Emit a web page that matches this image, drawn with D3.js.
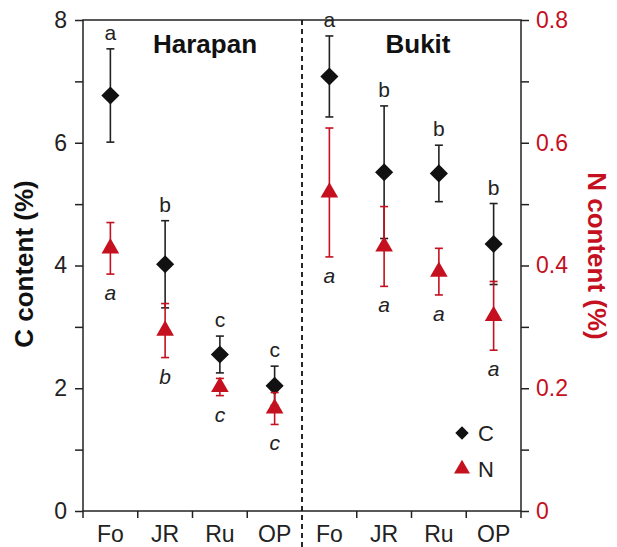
<!DOCTYPE html>
<html>
<head>
<meta charset="utf-8">
<script src="https://cdn.jsdelivr.net/npm/d3@7"></script>
<style>
  body { margin: 0; background: #fff; }
  text { font-family: Arial, 'Liberation Sans', sans-serif; }
</style>
</head>
<body>
<div id="chart"></div>
<script>
const sites = ['Harapan', 'Bukit']
const landUses = ['Fo', 'JR', 'Ru', 'OP']
const cMean = [6.77, 4.02, 2.55, 2.04, 7.08, 5.52, 5.50, 4.35]
const cErr = [0.76, 0.71, 0.30, 0.32, 0.66, 1.08, 0.46, 0.66]
const nMean = [0.428, 0.294, 0.202, 0.167, 0.519, 0.431, 0.390, 0.318]
const nErr = [0.042, 0.044, 0.014, 0.026, 0.105, 0.065, 0.038, 0.056]
const cLetters = ['a', 'b', 'c', 'c', 'a', 'b', 'b', 'b']
const nLetters = ['a', 'b', 'c', 'c', 'a', 'a', 'a', 'a']
const cTicks = [0, 1, 2, 3, 4, 5, 6, 7, 8]
const nTicks = [0, 0.1, 0.2, 0.3, 0.4, 0.5, 0.6, 0.7, 0.8]

const red = '#c4101f'
const width = 617
const height = 547
const plotLeft = 83, plotRight = 521, plotTop = 20, plotBottom = 511

// one slot per site x land use
const slots = []
sites.forEach(s => landUses.forEach(l => slots.push(s + '-' + l)))
const rows = slots.map((id, i) => ({
    id: id, lu: landUses[i % 4],
    c: cMean[i], ce: cErr[i], n: nMean[i], ne: nErr[i],
    cl: cLetters[i], nl: nLetters[i]
}))

let svg = d3.select('#chart').append('svg')
    .attr('width', width)
    .attr('height', height)

let xScale = d3.scaleBand().domain(slots).range([plotLeft, plotRight]).padding(0)
let yC = d3.scaleLinear().domain([0, 8]).range([plotBottom, plotTop])
let yN = d3.scaleLinear().domain([0, 0.8]).range([plotBottom, plotTop])

// Axes
let yAxisL = d3.axisLeft(yC)
    .tickValues(cTicks)
    .tickSize(8)
    .tickPadding(8)
    .tickFormat(d => d % 2 === 0 ? d : '')
let gL = svg.append('g').attr('transform', 'translate(' + plotLeft + ',0)').call(yAxisL)
gL.select('.domain').remove()
gL.selectAll('line').attr('stroke', '#222').attr('stroke-width', 1.5)
gL.selectAll('text').attr('font-size', 23).attr('fill', '#222')
    .style('font-family', 'Arial, Liberation Sans, sans-serif')

let yAxisR = d3.axisRight(yN)
    .tickValues(nTicks)
    .tickSize(8)
    .tickPadding(7)
    .tickFormat((d, i) => i % 2 === 0 ? (d === 0 ? '0' : d.toFixed(1)) : '')
let gR = svg.append('g').attr('transform', 'translate(' + plotRight + ',0)').call(yAxisR)
gR.select('.domain').remove()
gR.selectAll('line').attr('stroke', '#222').attr('stroke-width', 1.5)
gR.selectAll('text').attr('font-size', 23).attr('fill', red)
    .style('font-family', 'Arial, Liberation Sans, sans-serif')

// x ticks at slot boundaries (none on the divider)
const bounds = slots.map(s => xScale(s)).concat([plotRight]).filter((b, i) => i !== 4)
svg.append('g').selectAll('line')
    .data(bounds)
    .enter()
    .append('line')
    .attr('x1', d => d).attr('x2', d => d)
    .attr('y1', plotBottom).attr('y2', plotBottom + 7)
    .attr('stroke', '#222').attr('stroke-width', 1.5)

svg.append('g').selectAll('text')
    .data(rows)
    .enter()
    .append('text')
    .attr('x', d => xScale(d.id) + xScale.bandwidth() / 2)
    .attr('y', 541.5)
    .attr('text-anchor', 'middle')
    .attr('font-size', 23)
    .attr('fill', '#222')
    .text(d => d.lu)

// frame
svg.append('rect')
    .attr('x', plotLeft).attr('y', plotTop)
    .attr('width', plotRight - plotLeft).attr('height', plotBottom - plotTop)
    .attr('fill', 'none').attr('stroke', '#222').attr('stroke-width', 1.5)

// divider between sites
svg.append('line')
    .attr('x1', xScale(slots[4])).attr('x2', xScale(slots[4]))
    .attr('y1', plotTop).attr('y2', height)
    .attr('stroke', '#111').attr('stroke-width', 1.8)
    .attr('stroke-dasharray', '5,4')

// site titles
svg.append('g').selectAll('text')
    .data(sites)
    .enter()
    .append('text')
    .attr('x', (d, i) => i === 0 ? 205 : 418)
    .attr('y', 53)
    .attr('text-anchor', 'middle')
    .attr('font-size', 26)
    .attr('font-weight', 'bold')
    .attr('fill', '#111')
    .text(d => d)

// axis titles
svg.append('text')
    .attr('transform', 'translate(33,264) rotate(-90)')
    .attr('text-anchor', 'middle')
    .attr('font-size', 26)
    .attr('font-weight', 'bold')
    .attr('fill', '#111')
    .text('C content (%)')

svg.append('text')
    .attr('transform', 'translate(588,256) rotate(90)')
    .attr('text-anchor', 'middle')
    .attr('font-size', 26)
    .attr('font-weight', 'bold')
    .attr('fill', red)
    .text('N content (%)')

const cx = d => xScale(d.id) + xScale.bandwidth() / 2
const capW = 4

// error bars
function errorBars(key, errKey, scale, color) {
    let g = svg.append('g').attr('stroke', color).attr('stroke-width', 1.6)
    g.selectAll('.bar')
        .data(rows)
        .enter()
        .append('line')
        .attr('x1', cx).attr('x2', cx)
        .attr('y1', d => scale(d[key] - d[errKey]))
        .attr('y2', d => scale(d[key] + d[errKey]))
    g.selectAll('.capTop')
        .data(rows)
        .enter()
        .append('line')
        .attr('x1', d => cx(d) - capW).attr('x2', d => cx(d) + capW)
        .attr('y1', d => scale(d[key] + d[errKey]))
        .attr('y2', d => scale(d[key] + d[errKey]))
    g.selectAll('.capBot')
        .data(rows)
        .enter()
        .append('line')
        .attr('x1', d => cx(d) - capW).attr('x2', d => cx(d) + capW)
        .attr('y1', d => scale(d[key] - d[errKey]))
        .attr('y2', d => scale(d[key] - d[errKey]))
}

const diamond = d3.symbol().type(d3.symbolSquare).size(165)
const triangle = d3.symbol().type(d3.symbolTriangle).size(135)

// C series
errorBars('c', 'ce', yC, '#222')
svg.append('g').selectAll('path')
    .data(rows)
    .enter()
    .append('path')
    .attr('d', diamond)
    .attr('transform', d => 'translate(' + cx(d) + ',' + yC(d.c) + ') rotate(45)')
    .attr('fill', '#111')

// N series
errorBars('n', 'ne', yN, red)
svg.append('g').selectAll('path')
    .data(rows)
    .enter()
    .append('path')
    .attr('d', triangle)
    .attr('transform', d => 'translate(' + cx(d) + ',' + yN(d.n) + ')')
    .attr('fill', red)

// significance letters
svg.append('g').selectAll('text')
    .data(rows)
    .enter()
    .append('text')
    .attr('x', cx)
    .attr('y', d => yC(d.c + d.ce) - 9)
    .attr('text-anchor', 'middle')
    .attr('font-size', 21)
    .attr('fill', '#222')
    .text(d => d.cl)

svg.append('g').selectAll('text')
    .data(rows)
    .enter()
    .append('text')
    .attr('x', cx)
    .attr('y', d => yN(d.n - d.ne) + 26)
    .attr('text-anchor', 'middle')
    .attr('font-size', 21)
    .attr('font-style', 'italic')
    .attr('fill', '#222')
    .text(d => d.nl)

// legend
let legend = svg.append('g').attr('transform', 'translate(462,0)')
legend.append('path')
    .attr('d', d3.symbol().type(d3.symbolSquare).size(90))
    .attr('transform', 'translate(0,433) rotate(45)')
    .attr('fill', '#111')
legend.append('path')
    .attr('d', d3.symbol().type(d3.symbolTriangle).size(110))
    .attr('transform', 'translate(0,469)')
    .attr('fill', red)
legend.append('text').attr('x', 16).attr('y', 441).attr('font-size', 22).attr('fill', '#222').text('C')
legend.append('text').attr('x', 16).attr('y', 477).attr('font-size', 22).attr('fill', '#222').text('N')
</script>
</body>
</html>
